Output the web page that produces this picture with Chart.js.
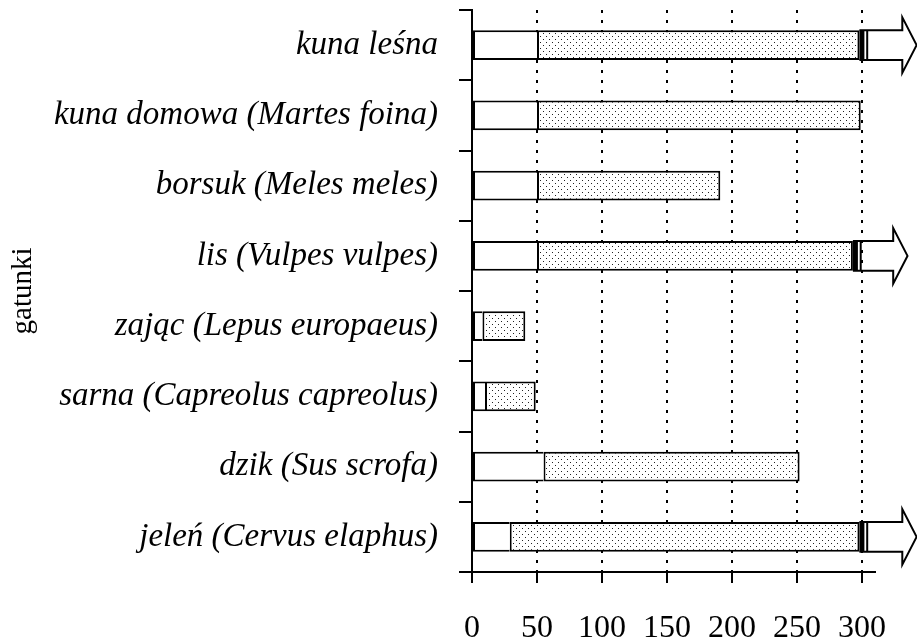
<!DOCTYPE html>
<html>
<head>
    <title>gatunki</title>
    <style>
        body {
            margin: 0;
            padding: 0;
            background-color: #fff;
        }

        #wrap {
            width: 917px;
            height: 643px;
        }
    </style>
    <script src="https://cdn.jsdelivr.net/npm/chart.js"></script>
</head>
<body>
    <div id="wrap">
        <canvas id="speciesChart" width="917" height="643"></canvas>
    </div>

    <script>
        // values
        const categories = [
            "kuna leśna",
            "kuna domowa (Martes foina)",
            "borsuk (Meles meles)",
            "lis (Vulpes vulpes)",
            "zając (Lepus europaeus)",
            "sarna (Capreolus capreolus)",
            "dzik (Sus scrofa)",
            "jeleń (Cervus elaphus)"
        ];
        const starts = [50, 50, 50, 50, 8, 10, 55, 29];
        const ends = [298, 299, 191, 293, 41, 49, 252, 298];
        // bars that run off the scale get an arrow, tip value
        const arrowTips = [342, null, null, 335, null, null, null, 342];
        const xTicks = [0, 50, 100, 150, 200, 250, 300];
        const xMax = 310;

        // dotted fill for the main segment
        function makeDots() {
            const c = document.createElement("canvas");
            c.width = 6;
            c.height = 6;
            const g = c.getContext("2d");
            g.fillStyle = "#fff";
            g.fillRect(0, 0, 6, 6);
            g.fillStyle = "#222";
            g.fillRect(0, 0, 1, 1);
            g.fillRect(3, 3, 1, 1);
            return document.getElementById("speciesChart").getContext("2d").createPattern(c, "repeat");
        }
        const dots = makeDots();

        // arrows drawn past the end of bars that exceed the scale
        const arrowPlugin = {
            id: "arrows",
            afterDatasetsDraw(chart) {
                const ctx = chart.ctx;
                const xs = chart.scales.x;
                const meta = chart.getDatasetMeta(1);
                ctx.save();
                ctx.strokeStyle = "#000";
                ctx.lineWidth = 2;
                arrowTips.forEach((tip, i) => {
                    if (tip === null) return;
                    const bar = meta.data[i];
                    const yc = bar.y;
                    const h = bar.height / 2;
                    const xEnd = xs.getPixelForValue(ends[i]);
                    const xThin = xs.getPixelForValue(ends[i] + 6);
                    const xTip = xs.getPixelForValue(tip);
                    const xHead = xs.getPixelForValue(tip - 11);
                    // thick stop line + thin line
                    ctx.fillStyle = "#000";
                    ctx.fillRect(xEnd, yc - h, 5, 2 * h);
                    ctx.beginPath();
                    ctx.moveTo(xThin, yc - h);
                    ctx.lineTo(xThin, yc + h);
                    ctx.stroke();
                    // outline of the arrow
                    ctx.beginPath();
                    ctx.moveTo(xEnd, yc - h);
                    ctx.lineTo(xHead, yc - h);
                    ctx.lineTo(xHead, yc - h - 13);
                    ctx.lineTo(xTip, yc);
                    ctx.lineTo(xHead, yc + h + 13);
                    ctx.lineTo(xHead, yc + h);
                    ctx.lineTo(xEnd, yc + h);
                    ctx.stroke();
                });
                ctx.restore();
            }
        };

        const ctx = document.getElementById("speciesChart").getContext("2d");
        const config = {
            type: "bar",
            data: {
                labels: categories,
                datasets: [
                    {
                        label: "start",
                        data: starts.map(s => [0, s]),
                        backgroundColor: "#fff",
                        borderColor: "#000",
                        borderWidth: 2,
                        borderSkipped: "right"
                    },
                    {
                        label: "zakres",
                        data: starts.map((s, i) => [s, ends[i]]),
                        backgroundColor: dots,
                        borderColor: "#000",
                        borderWidth: 2,
                        borderSkipped: false
                    }
                ]
            },
            options: {
                indexAxis: "y",
                responsive: false,
                animation: false,
                layout: {
                    padding: { top: 10, right: 42, left: 0, bottom: 0 }
                },
                plugins: {
                    legend: { display: false },
                    tooltip: { enabled: false }
                },
                datasets: {
                    bar: {
                        categoryPercentage: 1,
                        barPercentage: 0.42
                    }
                },
                scales: {
                    x: {
                        type: "linear",
                        min: 0,
                        max: xMax,
                        afterBuildTicks: s => {
                            s.ticks = xTicks.map(v => ({ value: v }));
                        },
                        afterFit: s => {
                            s.height = 71;
                            s.paddingLeft = 0;
                            s.paddingRight = 0;
                        },
                        ticks: {
                            color: "#000",
                            padding: 26,
                            maxRotation: 0,
                            font: { family: "'Liberation Serif', serif", size: 32 }
                        },
                        grid: {
                            color: "#000",
                            lineWidth: 2,
                            tickLength: 11,
                            tickWidth: 2,
                            tickColor: "#000",
                            tickBorderDash: []
                        },
                        border: {
                            display: true,
                            color: "#000",
                            width: 2,
                            dash: [3, 7]
                        }
                    },
                    y: {
                        stacked: true,
                        afterFit: s => {
                            s.width = 472;
                            s.paddingTop = 0;
                            s.paddingBottom = 0;
                        },
                        ticks: {
                            color: "#000",
                            padding: 21,
                            font: { family: "'Liberation Serif', serif", size: 33, style: "italic" }
                        },
                        grid: {
                            offset: true,
                            drawOnChartArea: false,
                            color: "#000",
                            lineWidth: 2,
                            tickLength: 13
                        },
                        border: {
                            display: true,
                            color: "#000",
                            width: 2
                        },
                        title: {
                            display: true,
                            text: "gatunki",
                            color: "#000",
                            padding: { top: 6, bottom: 0 },
                            font: { family: "'Liberation Serif', serif", size: 29 }
                        }
                    }
                }
            },
            plugins: [arrowPlugin]
        };
        new Chart(ctx, config);
    </script>
</body>
</html>
